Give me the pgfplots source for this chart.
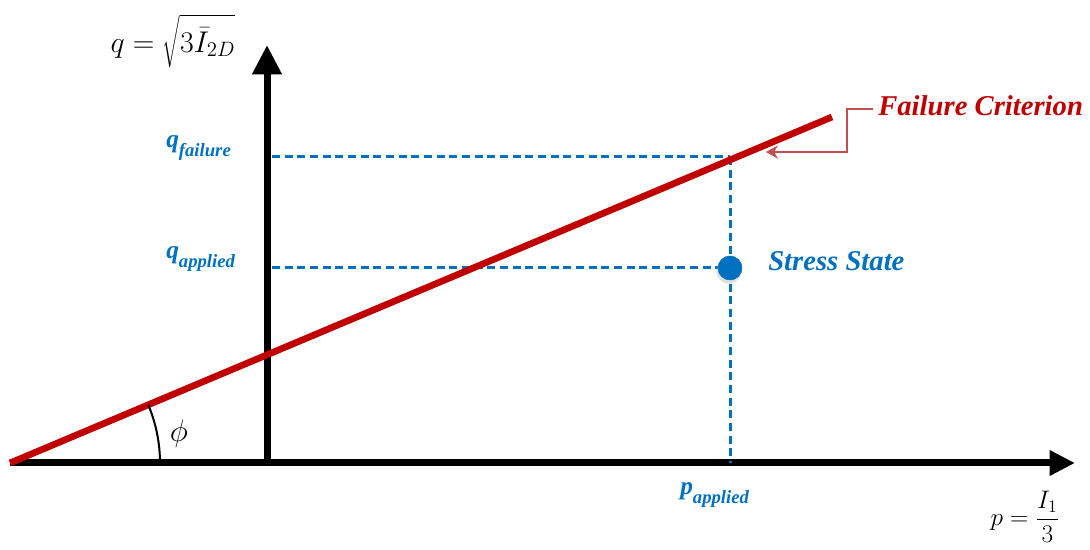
\documentclass[border=0pt]{standalone}
\usepackage{pgfplots}
\pgfplotsset{compat=1.18}
\usetikzlibrary{arrows.meta}
\usepackage{fontspec}
\setmainfont{Liberation Serif}
\definecolor{fred}{HTML}{C00000}
\definecolor{fblue}{HTML}{0070C0}
\definecolor{cred}{HTML}{C0504D}
\begin{document}
\begin{tikzpicture}
\begin{axis}[
  scale only axis, width=817.5pt, height=412.5pt,
  xmin=0, xmax=1090, ymin=0, ymax=550,
  hide axis, clip=false, enlargelimits=false,
]
\path (axis cs:0,0) rectangle (axis cs:1090,550);
% axes
\addplot[black, line width=5.25pt, -{Triangle[length=19pt,width=18pt]}] coordinates {(10,87) (1075,87)};
\addplot[black, line width=5.25pt, -{Triangle[length=22pt,width=21pt]}] coordinates {(267,87) (267,505)};
% dashed guides
\addplot[fblue, line width=2.25pt, dash pattern=on 6pt off 3.5pt] coordinates {(272,393) (730,393)};
\addplot[fblue, line width=2.25pt, dash pattern=on 6pt off 3.5pt] coordinates {(272,282) (730,282)};
\addplot[fblue, line width=2.25pt, dash pattern=on 6pt off 3.5pt] coordinates {(730,393) (730,87)};
% failure line
\addplot[fred, line width=5pt] coordinates {(10,87) (832,433)};
% stress state point
\addplot[only marks, mark=*, mark size=9.5pt, color=black!35, opacity=0.35, mark options={draw opacity=0}] coordinates {(729,279)};
\addplot[only marks, mark=*, mark size=9pt, color=fblue] coordinates {(730,282)};
% angle arc
\draw[black, line width=1.5pt] (axis cs:160,87) arc[start angle=0, end angle=22.8, radius=112.5pt];
\node[font=\fontsize{17}{20}\selectfont, scale=1.35] at (axis cs:179,116) {$\phi$};
% callout
\draw[cred, line width=1.5pt, -{Stealth[length=9pt,width=10pt,inset=3pt]}] (axis cs:873,441) -- (axis cs:847,441) -- (axis cs:847,398) -- (axis cs:766,398);
\node[anchor=base west, inner sep=0, text=fred, font=\fontsize{21.5}{25}\selectfont\bfseries\itshape] at (axis cs:878,434) {Failure Criterion};
\node[anchor=base west, inner sep=0, text=fblue, font=\fontsize{21.5}{25}\selectfont\bfseries\itshape] at (axis cs:768,279) {Stress State};
% labels
\node[anchor=base west, inner sep=0, text=fblue, font=\bfseries\itshape] at (axis cs:166,402) {{\fontsize{19}{22}\selectfont q}{\fontsize{14}{16}\selectfont\raisebox{-6.5pt}{failure}}};
\node[anchor=base west, inner sep=0, text=fblue, font=\bfseries\itshape] at (axis cs:166,291) {{\fontsize{19}{22}\selectfont q}{\fontsize{14}{16}\selectfont\raisebox{-6.5pt}{applied}}};
\node[anchor=base west, inner sep=0, text=fblue, font=\bfseries\itshape] at (axis cs:680,55) {{\fontsize{19}{22}\selectfont p}{\fontsize{14}{16}\selectfont\raisebox{-6.5pt}{applied}}};
\node[inner sep=0, font=\fontsize{17}{20}\selectfont, scale=1.1] at (axis cs:1025,33) {$p=\displaystyle\frac{I_1}{3}$};
\node[inner sep=0, font=\fontsize{17}{20}\selectfont, scale=1.3] at (axis cs:173,509) {$q=\sqrt{\rule[-0.45em]{0pt}{1.6em}3\bar{I}_{2D}}$};
\end{axis}
\end{tikzpicture}
\end{document}
